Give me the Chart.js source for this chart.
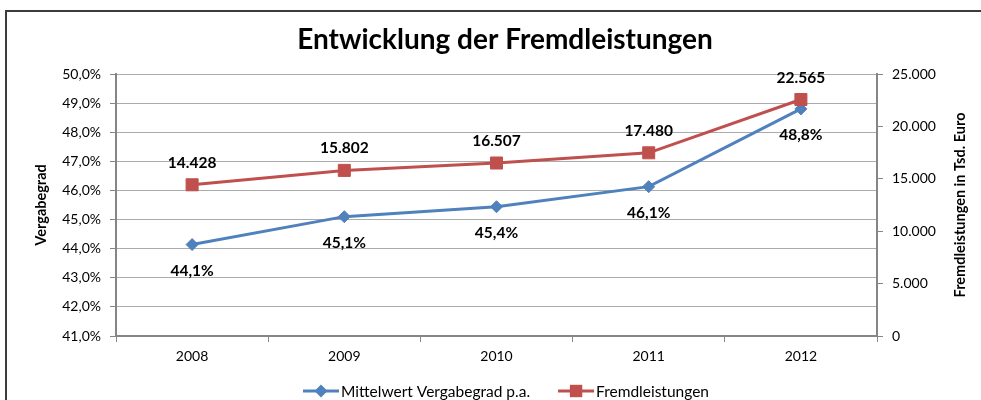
<!DOCTYPE html>
<html><head><meta charset="utf-8">
<script src="https://cdn.jsdelivr.net/npm/chart.js@4/dist/chart.umd.min.js"></script>
<style>html,body{margin:0;padding:0;background:#fff;overflow:hidden}#wrap{position:relative;width:981px;height:400px}</style>
</head><body><div id="wrap"><canvas id="c" width="981" height="400"></canvas></div>
<script>
// ---- data ----
const categories = ['2008', '2009', '2010', '2011', '2012'];
const vergabegrad = [44.14, 45.10, 45.44, 46.13, 48.80];          // %
const fremdleistungen = [14428, 15802, 16507, 17480, 22565];       // Tsd. Euro
const seriesNames = ['Mittelwert Vergabegrad p.a.', 'Fremdleistungen'];
const leftTickMin = 41, leftTickMax = 50, leftTickStep = 1;
const rightTickMin = 0, rightTickMax = 25000, rightTickStep = 5000;
const chartTitle = 'Entwicklung der Fremdleistungen';
const leftAxisTitle = 'Vergabegrad';
const rightAxisTitle = 'Fremdleistungen in Tsd. Euro';

// ---- styles ----
const FONT = 'Lato, "Liberation Sans", sans-serif';
const BLUE = '#4F81BD', RED = '#C0504D';
const GRID = '#ABABAB', AXIS = '#868686';

const fmtPct = v => v.toFixed(1).replace('.', ',') + '%';
const fmtThousand = v => Math.round(v).toString().replace(/\B(?=(\d{3})+(?!\d))/g, '.');

function drawMarker(ctx, style, x, y, color) {
  ctx.save();
  ctx.fillStyle = color;
  ctx.beginPath();
  if (style === 'rectRot') {
    const r = 6.5;
    ctx.moveTo(x, y - r); ctx.lineTo(x + r, y); ctx.lineTo(x, y + r); ctx.lineTo(x - r, y);
    ctx.closePath();
  } else {
    const s = 6.2;
    ctx.rect(x - s, y - s, 2 * s, 2 * s);
  }
  ctx.fill();
  ctx.restore();
}

const decorPlugin = {
  id: 'decor',
  beforeDraw(chart) {
    const ctx = chart.ctx;
    ctx.save();
    ctx.fillStyle = '#fff';
    ctx.fillRect(0, 0, chart.width, chart.height);
    ctx.strokeStyle = '#3c3c3c';
    ctx.lineWidth = 2;
    ctx.strokeRect(6, 11, 1200, 600);
    ctx.restore();
  },
  afterDraw(chart) {
    const ctx = chart.ctx;
    const area = chart.chartArea;
    ctx.save();
    // title
    ctx.fillStyle = '#000';
    ctx.font = 'bold 28px ' + FONT;
    ctx.textAlign = 'center';
    ctx.textBaseline = 'middle';
    ctx.fillText(chartTitle, 505, 40);
    // right axis title (rotated -90)
    ctx.font = 'bold 14.5px ' + FONT;
    ctx.translate(960, (area.top + area.bottom) / 2);
    ctx.rotate(-Math.PI / 2);
    ctx.fillText(rightAxisTitle, 0, 0);
    ctx.restore();

    // legend
    ctx.save();
    ctx.font = '15.5px ' + FONT;
    ctx.textBaseline = 'middle';
    ctx.textAlign = 'left';
    const lineW = 36, gapText = 2, gapItem = 28, ly = 391;
    const items = chart.data.datasets.map(ds => ({
      text: ds.label, color: ds.borderColor, style: ds.pointStyle,
      w: lineW + gapText + ctx.measureText(ds.label).width
    }));
    const total = items.reduce((s, it) => s + it.w, 0) + gapItem * (items.length - 1);
    let x = 506 - total / 2;
    items.forEach(it => {
      ctx.strokeStyle = it.color;
      ctx.lineWidth = 3;
      ctx.beginPath(); ctx.moveTo(x, ly); ctx.lineTo(x + lineW, ly); ctx.stroke();
      drawMarker(ctx, it.style, x + lineW / 2, ly, it.color);
      ctx.fillStyle = '#000';
      ctx.fillText(it.text, x + lineW + gapText, ly + 0.5);
      x += it.w + gapItem;
    });
    ctx.restore();
  },
  afterDatasetsDraw(chart) {
    const ctx = chart.ctx;
    ctx.save();
    ctx.font = 'bold 15.5px ' + FONT;
    ctx.fillStyle = '#000';
    ctx.textAlign = 'center';
    ctx.textBaseline = 'middle';
    chart.data.datasets.forEach((ds, di) => {
      const meta = chart.getDatasetMeta(di);
      meta.data.forEach((pt, i) => {
        const v = ds.data[i];
        if (di === 0) ctx.fillText(fmtPct(v), pt.x, pt.y + 26);
        else ctx.fillText(fmtThousand(v), pt.x, pt.y - 22);
      });
    });
    ctx.restore();
  }
};

new Chart(document.getElementById('c'), {
  type: 'line',
  data: {
    labels: categories,
    datasets: [
      {
        label: seriesNames[0], data: vergabegrad, yAxisID: 'yL',
        borderColor: BLUE, backgroundColor: BLUE, borderWidth: 3,
        pointStyle: 'rectRot', pointRadius: 6, pointBorderWidth: 1,
        pointBackgroundColor: BLUE, pointBorderColor: BLUE, tension: 0, order: 2
      },
      {
        label: seriesNames[1], data: fremdleistungen, yAxisID: 'yR',
        borderColor: RED, backgroundColor: RED, borderWidth: 3,
        pointStyle: 'rect', pointRadius: 8.5, pointBorderWidth: 1,
        pointBackgroundColor: RED, pointBorderColor: RED, tension: 0, order: 1
      }
    ]
  },
  options: {
    responsive: false,
    devicePixelRatio: 1,
    animation: false,
    layout: { padding: { left: 30, right: 9, top: 74, bottom: 34 } },
    plugins: { legend: { display: false }, title: { display: false }, tooltip: { enabled: false } },
    scales: {
      x: {
        type: 'category',
        offset: true,
        grid: { offset: true, drawOnChartArea: false, tickLength: 6, tickColor: AXIS, color: AXIS },
        border: { color: AXIS, width: 2 },
        ticks: { color: '#000', font: { family: FONT, size: 14 }, padding: 6, maxRotation: 0 },
        afterFit(s) { s.height = 30; }
      },
      yL: {
        type: 'linear', position: 'left',
        min: leftTickMin, max: leftTickMax,
        grid: { color: GRID, lineWidth: 1, tickLength: 6, tickColor: AXIS },
        border: { color: AXIS, width: 2 },
        ticks: { stepSize: leftTickStep, color: '#000', font: { family: FONT, size: 14 }, padding: 9,
                 callback: v => fmtPct(v) },
        title: { display: true, text: leftAxisTitle, color: '#000', font: { family: FONT, size: 14.5, weight: 'bold' },
                 padding: { top: 3, bottom: 0 } },
        afterFit(s) { s.width = 86; }
      },
      yR: {
        type: 'linear', position: 'right',
        min: rightTickMin, max: rightTickMax,
        grid: { drawOnChartArea: false, tickLength: 6, tickColor: AXIS },
        border: { color: AXIS, width: 2 },
        ticks: { stepSize: rightTickStep, color: '#000', font: { family: FONT, size: 14 }, padding: 9,
                 callback: v => fmtThousand(v) },
        afterFit(s) { s.width = 95; }
      }
    }
  },
  plugins: [decorPlugin]
});
</script></body></html>
